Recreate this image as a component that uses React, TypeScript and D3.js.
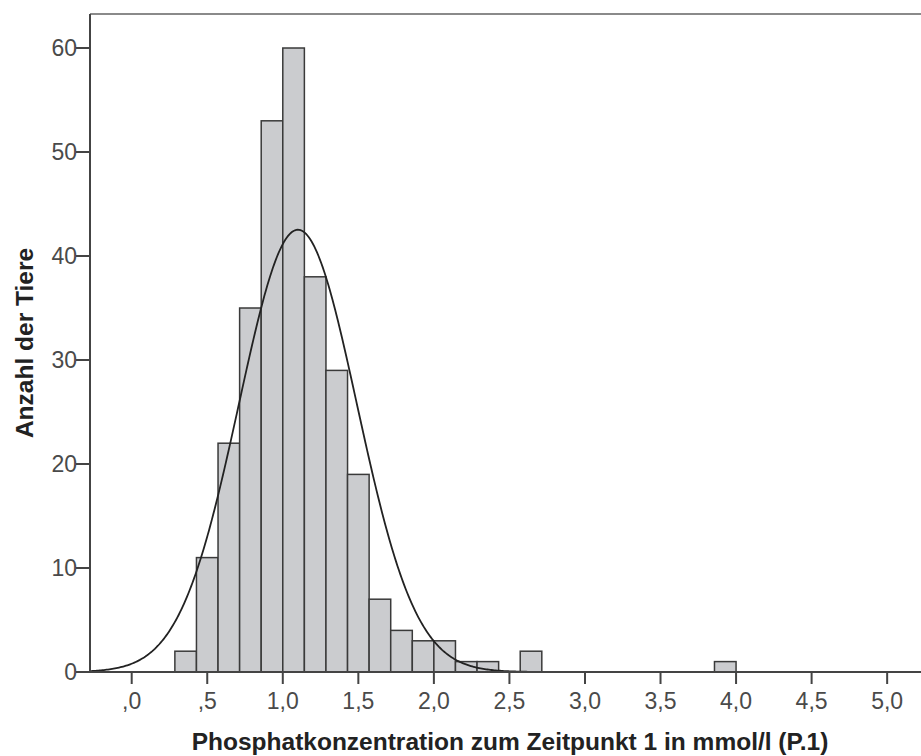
import React from "react";
import * as d3 from "d3";

// Histogram of phosphate concentration, bins of width 1/7 mmol/l starting at 2/7
const binStart = 2 / 7;
const binWidth = 1 / 7;
const counts = [2, 11, 22, 35, 53, 60, 38, 29, 19, 7, 4, 3, 3, 1, 1, 0, 2, 0, 0, 0, 0, 0, 0, 0, 0, 1];

// Fitted normal curve parameters
const sampleSize = 291;
const fitMean = 1.1;
const fitSd = 0.39;

const xTicks = [0, 0.5, 1, 1.5, 2, 2.5, 3, 3.5, 4, 4.5, 5];
const xTickLabels = [",0", ",5", "1,0", "1,5", "2,0", "2,5", "3,0", "3,5", "4,0", "4,5", "5,0"];
const yTicks = [0, 10, 20, 30, 40, 50, 60];

const xTitle = "Phosphatkonzentration zum Zeitpunkt 1 in mmol/l (P.1)";
const yTitle = "Anzahl der Tiere";

const W = 921;
const H = 756;
const plotLeft = 90;
const plotRight = 921;
const plotTop = 14;
const plotBottom = 672;

export default function App() {
  const x = d3.scaleLinear().domain([-0.276, 5.224]).range([plotLeft, plotRight]);
  const y = d3.scaleLinear().domain([0, 63.27]).range([plotBottom, plotTop]);

  const bins = counts.map((c, i) => ({
    x0: binStart + i * binWidth,
    x1: binStart + (i + 1) * binWidth,
    count: c,
  }));

  const density = (v: number) =>
    (sampleSize * binWidth) / (fitSd * Math.sqrt(2 * Math.PI)) *
    Math.exp(-0.5 * ((v - fitMean) / fitSd) ** 2);

  const curvePts = d3.range(0, 601).map((i) => {
    const v = x.domain()[0] + (i / 600) * (x.domain()[1] - x.domain()[0]);
    return [v, density(v)] as [number, number];
  });
  const line = d3
    .line<[number, number]>()
    .x((d) => x(d[0]))
    .y((d) => y(d[1]))
    .curve(d3.curveLinear);

  const font = "'Liberation Sans', Arial, sans-serif";

  return (
    <div style={{ position: "absolute", left: 0, top: 0 }}>
      <svg width={W} height={H} style={{ display: "block", background: "#fff" }}>
        {/* top frame */}
        <line x1={plotLeft} x2={plotRight} y1={plotTop} y2={plotTop} stroke="#8a8a8a" strokeWidth={2} />

        {/* bars */}
        {bins
          .filter((b) => b.count > 0)
          .map((b, i) => (
            <rect
              key={i}
              x={x(b.x0)}
              y={y(b.count)}
              width={x(b.x1) - x(b.x0)}
              height={y(0) - y(b.count)}
              fill="#cbcccf"
              stroke="#3a3a3a"
              strokeWidth={1.5}
            />
          ))}

        {/* normal curve */}
        <path d={line(curvePts) || ""} fill="none" stroke="#222" strokeWidth={1.8} />

        {/* axes */}
        <line x1={plotLeft} x2={plotLeft} y1={plotTop} y2={plotBottom + 1} stroke="#444" strokeWidth={2} />
        <line x1={plotLeft - 1} x2={plotRight} y1={plotBottom} y2={plotBottom} stroke="#444" strokeWidth={2} />

        {/* y ticks */}
        {yTicks.map((t) => (
          <g key={t}>
            <line x1={plotLeft - 14} x2={plotLeft} y1={y(t)} y2={y(t)} stroke="#444" strokeWidth={2} />
            <text
              x={plotLeft - 13}
              y={y(t)}
              dy="0.35em"
              textAnchor="end"
              fontFamily={font}
              fontSize={23}
              fill="#4a4a4a"
            >
              {t}
            </text>
          </g>
        ))}

        {/* x ticks */}
        {xTicks.map((t, i) => (
          <g key={t}>
            <line x1={x(t)} x2={x(t)} y1={plotBottom} y2={plotBottom + 12} stroke="#444" strokeWidth={2} />
            <text
              x={x(t)}
              y={709}
              textAnchor="middle"
              fontFamily={font}
              fontSize={23}
              fill="#4a4a4a"
            >
              {xTickLabels[i]}
            </text>
          </g>
        ))}

        {/* axis titles */}
        <text
          x={510}
          y={750}
          textAnchor="middle"
          fontFamily={font}
          fontSize={24.5}
          fontWeight="bold"
          fill="#222"
        >
          {xTitle}
        </text>
        <text
          transform={`translate(33, ${(plotTop + plotBottom) / 2}) rotate(-90)`}
          textAnchor="middle"
          fontFamily={font}
          fontSize={24.5}
          fontWeight="bold"
          fill="#222"
        >
          {yTitle}
        </text>
      </svg>
    </div>
  );
}
